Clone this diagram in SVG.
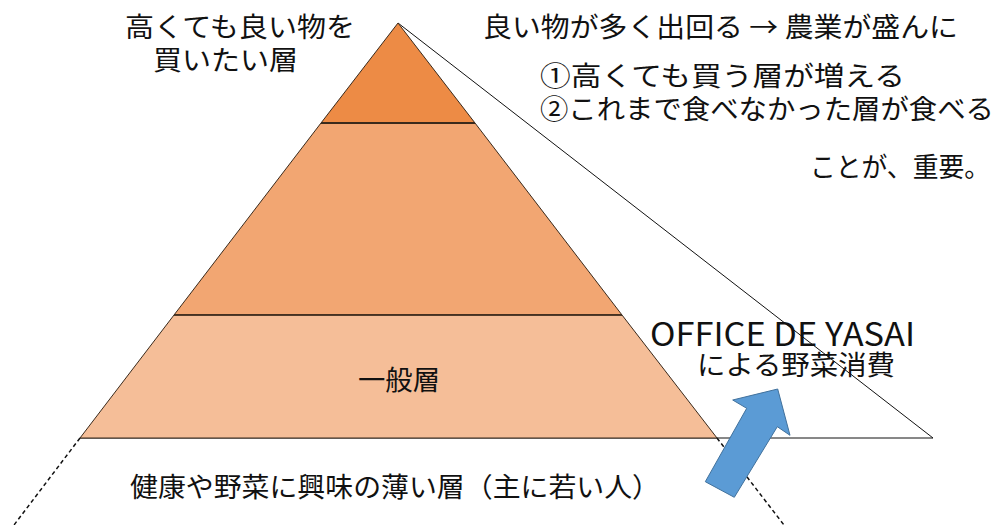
<svg xmlns="http://www.w3.org/2000/svg" width="999" height="525" viewBox="0 0 999 525">
<style>
text{font-family:"Noto Sans CJK JP","Noto Sans",sans-serif;font-size:27px;fill:#111;}
.edge{fill:none;stroke:#111;stroke-width:1;}
.dot{fill:none;stroke:#111;stroke-width:1.5;stroke-dasharray:4 3;}
.tier{stroke:#3a2a1c;stroke-width:1;}
</style>
<rect width="999" height="525" fill="#fff"/>
<g id="connectors">
<polyline class="edge" points="398,23 933,438 80,438"/>
<line class="dot" x1="80" y1="438" x2="14" y2="525"/>
<line class="dot" x1="717" y1="438" x2="784" y2="525"/>
</g>
<g id="tier-top">
<polygon class="tier" fill="#ED8B45" points="398,23 475,123 321,123"/>
</g>
<g id="tier-middle">
<polygon class="tier" fill="#F2A672" points="321,123 475,123 622,315 174,315"/>
</g>
<g id="tier-bottom">
<polygon class="tier" fill="#F5BE98" points="174,315 622,315 717,438 80,438"/>
<text x="358" y="390" textLength="82" lengthAdjust="spacingAndGlyphs">一般層</text>
</g>
<line x1="321" y1="123" x2="475" y2="123" stroke="#3a2a1c" stroke-width="2"/>
<line x1="174" y1="315" x2="622" y2="315" stroke="#3a2a1c" stroke-width="1.5"/>
<g id="label-top">
<text x="125" y="37" textLength="230" lengthAdjust="spacingAndGlyphs">高くても良い物を</text>
<text x="153" y="70" textLength="145" lengthAdjust="spacingAndGlyphs">買いたい層</text>
</g>
<g id="label-right">
<text x="483" y="37" textLength="475" lengthAdjust="spacingAndGlyphs">良い物が多く出回る → 農業が盛んに</text>
<text x="540" y="86" textLength="365" lengthAdjust="spacingAndGlyphs">①高くても買う層が増える</text>
<text x="540" y="119" textLength="454" lengthAdjust="spacingAndGlyphs">②これまで食べなかった層が食べる</text>
<text x="810" y="177" textLength="180" lengthAdjust="spacingAndGlyphs">ことが、重要。</text>
</g>
<g id="label-office">
<text x="650" y="346" style="font-size:32px" textLength="265" lengthAdjust="spacingAndGlyphs">OFFICE DE YASAI</text>
<text x="697" y="375" textLength="198" lengthAdjust="spacingAndGlyphs">による野菜消費</text>
</g>
<g id="label-bottom">
<text x="130" y="497" textLength="530" lengthAdjust="spacingAndGlyphs">健康や野菜に興味の薄い層（主に若い人）</text>
</g>
<g id="arrow">
<polygon fill="#5B9BD5" stroke="#41719C" stroke-width="1" points="777.7,389 790,435.3 777.3,426.7 734.3,497.3 705.3,481.7 746.7,408.3 732.7,400"/>
</g>
</svg>
